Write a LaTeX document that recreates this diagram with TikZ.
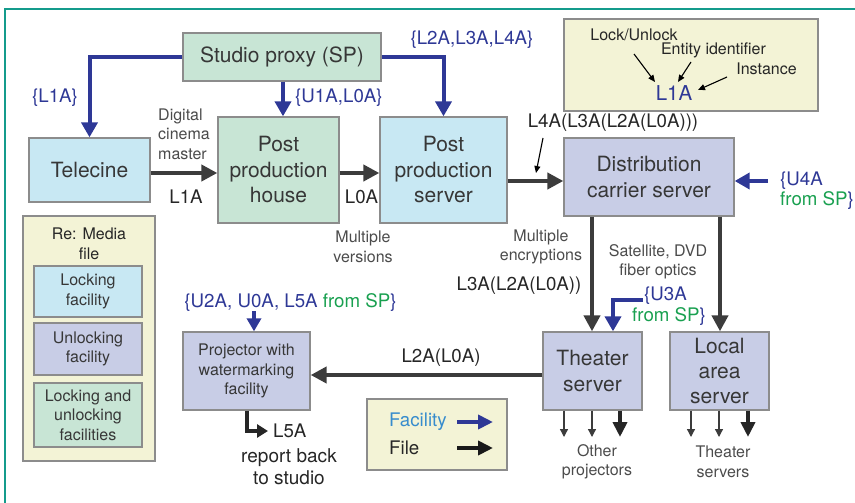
\documentclass[tikz,border=0pt]{standalone}
\usepackage{fontspec}
\setmainfont{TeX Gyre Heros}
\usetikzlibrary{arrows.meta}
\definecolor{cblue}{RGB}{46,56,150}
\definecolor{cdark}{RGB}{60,60,60}
\definecolor{cgreen}{RGB}{200,229,213}
\definecolor{clight}{RGB}{200,232,243}
\definecolor{clav}{RGB}{200,205,230}
\definecolor{cyel}{RGB}{243,243,214}
\definecolor{cborder}{RGB}{140,140,140}
\definecolor{ctext}{RGB}{55,55,55}
\definecolor{cgray}{RGB}{75,75,75}
\definecolor{cgtext}{RGB}{25,160,80}
\definecolor{cfac}{RGB}{55,140,205}
\definecolor{cteal}{RGB}{20,155,140}
\newcommand\fbig{\fontsize{21}{25.5}\selectfont}
\newcommand\fsmall{\fontsize{16}{19.5}\selectfont}
\newcommand\flab{\fontsize{18.7}{22}\selectfont}
\begin{document}
\begin{tikzpicture}[x=1pt,y=-1pt,
  box/.style={draw=cborder, line width=1.3pt, inner sep=0pt, align=center, text=ctext},
  fac/.style={cblue, line width=4pt, -{Triangle[length=15pt,width=16pt]}},
  file/.style={cdark, line width=4.5pt, -{Triangle[length=16pt,width=16pt]}},
  thinarr/.style={black, line width=1.1pt, -{Triangle[length=7pt,width=6pt]}},
  smallarr/.style={cdark, line width=1.3pt, -{Triangle[length=8pt,width=8pt]}},
  thickarr/.style={black!85, line width=4pt, -{Triangle[length=15pt,width=14pt]}},
  lbl/.style={inner sep=0pt, font=\flab, text=black!85},
  blbl/.style={inner sep=0pt, font=\flab, text=cblue},
  slbl/.style={inner sep=0pt, font=\fsmall, text=cgray, align=center}]
\useasboundingbox (0,0) rectangle (855,503);
% frame
\draw[cteal, line width=2.5pt] (855,9) -- (5,9) -- (5,503);

% boxes
\node[box, fill=cgreen, minimum width=198pt, minimum height=48pt, font=\fbig] (sp) at (282,57) {Studio proxy (SP)};
\node[box, fill=clight, minimum width=121pt, minimum height=64pt, font=\fbig] (tel) at (89.5,170) {Telecine};
\node[box, fill=cgreen, minimum width=121pt, minimum height=106pt, font=\fbig] (pph) at (278.5,170) {Post\\production\\house};
\node[box, fill=clight, minimum width=127pt, minimum height=106pt, font=\fbig] (pps) at (443.5,170) {Post\\production\\server};
\node[box, fill=clav, minimum width=170pt, minimum height=78pt, font=\fbig] (dcs) at (649,177) {Distribution\\carrier server};
\node[box, fill=cyel, minimum width=254pt, minimum height=92pt] (key) at (691,65) {};
\node[box, fill=clav, minimum width=99pt, minimum height=78pt, font=\fbig] (ts) at (592.5,371) {Theater\\server};
\node[box, fill=clav, minimum width=99pt, minimum height=78pt, font=\fbig] (las) at (719.5,371) {Local\\area\\server};
\node[box, fill=clav, minimum width=127pt, minimum height=78pt, font=\fsmall] (proj) at (246.5,371) {Projector with\\watermarking\\facility};
\node[box, fill=cyel, minimum width=140pt, minimum height=71pt] (leg) at (437,434.5) {};
\node[box, fill=cyel, minimum width=132pt, minimum height=245pt] (media) at (89,338.5) {};
\node[box, fill=clight, minimum width=108pt, minimum height=51pt, font=\fsmall] (lock) at (88,291.5) {Locking\\facility};
\node[box, fill=clav, minimum width=108pt, minimum height=52pt, font=\fsmall] (unlock) at (88,349) {Unlocking\\facility};
\node[box, fill=cgreen, minimum width=108pt, minimum height=64pt, font=\fsmall] (both) at (88,415) {Locking and\\unlocking\\facilities};
\node[slbl, text=black!85] (remedia) at (89,244) {Re: Media\\file};

% key box contents
\node[inner sep=0pt, font=\fsmall, text=black!85] (klock) at (634,35) {Lock/Unlock};
\node[inner sep=0pt, font=\fsmall, text=black!85] (kent) at (713.5,50) {Entity identifier};
\node[inner sep=0pt, font=\fsmall, text=black!85] (kinst) at (766.5,69) {Instance};
\node[inner sep=0pt, font=\fontsize{20.5}{24}\selectfont, text=cblue] (kl1a) at (674,93) {L1A};
\coordinate (ka1) at (634,54); \coordinate (kb1) at (655,82);
\coordinate (ka2) at (691,62); \coordinate (kb2) at (678,82);
\coordinate (ka3) at (727,77); \coordinate (kb3) at (698,90);
\draw[thinarr] (ka1) -- (kb1);
\draw[thinarr] (ka2) -- (kb2);
\draw[thinarr] (ka3) -- (kb3);

% facility arrows from SP
\draw[fac] (sp.west) -| (tel.north);
\draw[fac] (sp.south -| 283,0) -- (pph.north -| 283,0);
\draw[fac] (sp.east) -| (pps.north);
\node[blbl] (l1) at (55,98) {\{L1A\}};
\node[blbl, anchor=west] (l2) at (295,98) {\{U1A,L0A\}};
\node[blbl] (l3) at (472,40) {\{L2A,L3A,L4A\}};

% file arrows
\draw[file] (tel.east |- 0,173) -- (pph.west |- 0,173);
\draw[file] (pph.east |- 0,173) -- (pps.west |- 0,173);
\draw[file] (pps.east |- 0,181) -- (dcs.west |- 0,181);
\node[slbl, align=left, anchor=west] (dcm) at (158,134) {Digital\\cinema\\master};
\node[lbl] (fl1) at (186,197) {L1A};
\node[lbl] (fl0) at (361.5,197) {L0A};
\node[slbl] (mv) at (363,247) {Multiple\\versions};
\node[lbl] (l4a) at (613,123) {L4A(L3A(L2A(L0A)))};
\coordinate (l4s) at (543,138); \coordinate (l4e) at (536,173);
\draw[thinarr] (l4s) -- (l4e);

% U4A
\coordinate (u4) at (768,181);
\draw[fac] (u4) -- (dcs.east |- 0,181);
\node[blbl, anchor=west] (u4a) at (780,181) {\{U4A};
\node[blbl, anchor=west] (u4b) at (780,200) {\textcolor{cgtext}{from SP}\}};

% distribution arrows
\draw[file] (dcs.south -| 592,0) -- (ts.north -| 592,0);
\draw[file] (dcs.south -| 720,0) -- (las.north -| 720,0);
\node[slbl] (me) at (541,247) {Multiple\\encryptions};
\node[lbl] (l3a) at (519,286) {L3A(L2A(L0A))};
\node[slbl] (sat) at (658,262) {Satellite, DVD\\fiber optics};

% U3A
\coordinate (u3) at (643,300);
\draw[fac] (u3) -| (ts.north -| 613,0);
\node[blbl, anchor=west] (u3a) at (644,296) {\{U3A};
\node[blbl, anchor=west] (u3b) at (632,316) {\textcolor{cgtext}{from SP}\}};

% theater -> projector
\draw[file] (ts.west |- 0,375) -- (proj.east |- 0,375);
\node[lbl] (l2a) at (441,358) {L2A(L0A)};

% U2A
\coordinate (u2) at (254,311);
\draw[fac, -{Triangle[length=13pt,width=14pt]}] (u2) -- (proj.north -| 254,0);
\node[blbl] (u2a) at (290.5,302) {\{U2A, U0A, L5A \textcolor{cgtext}{from SP}\}};

% L5A report
\coordinate (l5) at (268,431);
\draw[black!85, line width=3.5pt, -{Triangle[length=11pt,width=13pt]}] (proj.south -| 247,0) |- (l5);
\node[lbl, anchor=west] (l5a) at (273,431) {L5A};
\node[lbl, align=center, font=\fontsize{19}{22}\selectfont] (rep) at (289,467) {report back\\to studio};

% outputs
\coordinate (o1) at (564,437); \coordinate (o2) at (592,437); \coordinate (o3) at (620,437);
\coordinate (o4) at (691,437); \coordinate (o5) at (719,437); \coordinate (o6) at (748,437);
\draw[smallarr] (ts.south -| o1) -- (o1);
\draw[smallarr] (ts.south -| o2) -- (o2);
\draw[thickarr] (ts.south -| o3) -- (o3);
\draw[smallarr] (las.south -| o4) -- (o4);
\draw[smallarr] (las.south -| o5) -- (o5);
\draw[thickarr] (las.south -| o6) -- (o6);
\node[slbl] (op) at (597,462) {Other\\projectors};
\node[slbl] (tsv) at (723,462) {Theater\\servers};

% legend
\node[inner sep=0pt, font=\flab, text=cfac, anchor=west] (lfac) at (389,422) {Facility};
\node[inner sep=0pt, font=\flab, text=black!85, anchor=west] (lfile) at (389,448) {File};
\coordinate (lf1) at (457,422); \coordinate (lf2) at (493,422);
\coordinate (lg1) at (457,448); \coordinate (lg2) at (493,448);
\draw[cblue, line width=4pt, -{Triangle[length=15pt,width=14pt]}] (lf1) -- (lf2);
\draw[black!90, line width=4pt, -{Triangle[length=15pt,width=14pt]}] (lg1) -- (lg2);
\end{tikzpicture}
\end{document}
